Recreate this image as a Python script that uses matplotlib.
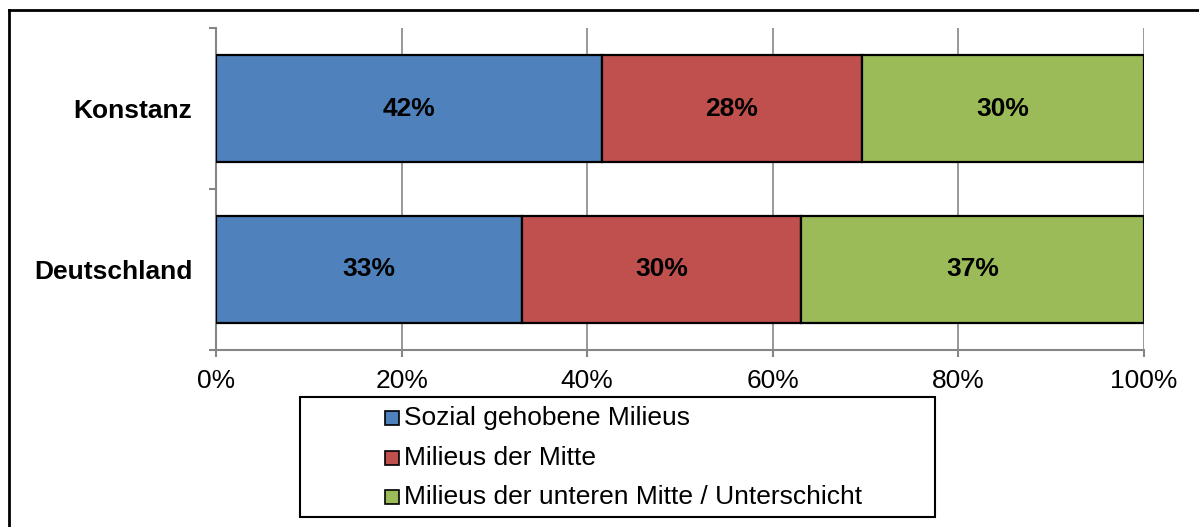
import matplotlib
matplotlib.use("Agg")
import matplotlib.pyplot as plt
from matplotlib.patches import Rectangle
from matplotlib.lines import Line2D
import numpy as np

plt.rcParams['font.family'] = ['Liberation Sans', 'DejaVu Sans']

categories = ["Deutschland", "Konstanz"]
series_names = ["Sozial gehobene Milieus", "Milieus der Mitte",
                "Milieus der unteren Mitte / Unterschicht"]
values = {
    "Sozial gehobene Milieus": [33.0, 41.6],
    "Milieus der Mitte": [30.0, 28.0],
    "Milieus der unteren Mitte / Unterschicht": [37.0, 30.4],
}
colors = ["#4F81BD", "#C0504D", "#9BBB59"]
xticks = [0, 20, 40, 60, 80, 100]
xticklabels = ["0%", "20%", "40%", "60%", "80%", "100%"]

FS = 19
W, H = 1199, 527
fig = plt.figure(figsize=(W / 100, H / 100), dpi=100)
ax = fig.add_axes([216 / W, 1 - 350 / H, (1144 - 216) / W, (350 - 28) / H])

y = np.arange(len(categories))
left = np.zeros(len(categories))
for name, col in zip(series_names, colors):
    vals = np.array(values[name])
    bars = ax.barh(y, vals, left=left, height=0.665, color=col,
                   edgecolor="black", linewidth=1.6, zorder=3)
    for b, v in zip(bars, vals):
        ax.text(b.get_x() + b.get_width() / 2, b.get_y() + b.get_height() / 2,
                f"{v:.0f}%", ha="center", va="center", fontsize=FS,
                fontweight="bold", color="black", zorder=4)
    left = left + vals

ax.set_xlim(0, 100)
ax.set_ylim(-0.5, len(categories) - 0.5)
ax.set_xticks(xticks)
ax.set_xticklabels(xticklabels, fontsize=FS)
ax.set_yticks(y)
ax.set_yticklabels(categories, fontsize=FS, fontweight="bold")
ax.tick_params(axis="y", which="major", length=0, pad=17)
ax.set_yticks([-0.5, 0.5, 1.5], minor=True)
ax.tick_params(axis="y", which="minor", length=5, width=1.5, color="#868686",
               direction="out")
ax.tick_params(axis="x", length=5, width=1.5, color="#868686", pad=9)
ax.grid(axis="x", color="#868686", linewidth=1.2, zorder=0)
for s in ["top", "right"]:
    ax.spines[s].set_visible(False)
for s in ["left", "bottom"]:
    ax.spines[s].set_color("#868686")
    ax.spines[s].set_linewidth(1.5)

# outer frame (top and left visible)
fig.add_artist(Line2D([9 / W, 9 / W], [0, 1 - 10 / H], transform=fig.transFigure,
                      color="black", linewidth=2))
fig.add_artist(Line2D([9 / W, 1], [1 - 10 / H, 1 - 10 / H], transform=fig.transFigure,
                      color="black", linewidth=2))

# legend box
fig.add_artist(Rectangle((300 / W, 1 - 517 / H), (935 - 300) / W, (517 - 397) / H,
                         transform=fig.transFigure, facecolor="white",
                         edgecolor="black", linewidth=1.5))
rows = [418, 458, 497]
for name, col, ry in zip(series_names, colors, rows):
    fig.add_artist(Rectangle((385 / W, 1 - (ry + 7) / H), 14 / W, 14 / H,
                             transform=fig.transFigure, facecolor=col,
                             edgecolor="black", linewidth=1.2))
    fig.text(404 / W, 1 - ry / H, name, fontsize=FS, ha="left", va="center")

fig.savefig("out.png", dpi=100)
